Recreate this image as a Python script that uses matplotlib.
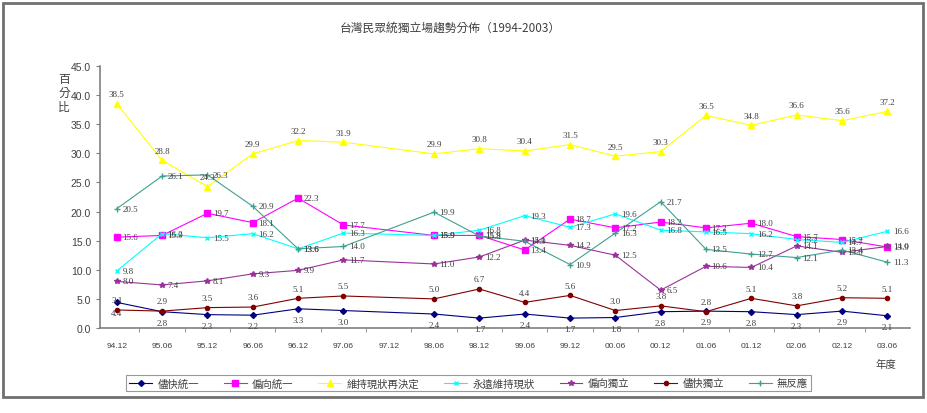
import numpy as np
import matplotlib
matplotlib.use("Agg")
import matplotlib.pyplot as plt
from matplotlib.patches import Rectangle

plt.rcParams['font.family'] = ['Noto Sans CJK TC', 'DejaVu Sans']

# category axis (97.12 has no survey)
categories = ['94.12', '95.06', '95.12', '96.06', '96.12', '97.06', '97.12', '98.06', '98.12',
              '99.06', '99.12', '00.06', '00.12', '01.06', '01.12', '02.06', '02.12', '03.06']
surveyed = ['94.12', '95.06', '95.12', '96.06', '96.12', '97.06', '98.06', '98.12',
            '99.06', '99.12', '00.06', '00.12', '01.06', '01.12', '02.06', '02.12', '03.06']

unify_asap = [4.4, 2.8, 2.3, 2.2, 3.3, 3.0, 2.4, 1.7, 2.4, 1.7, 1.8, 2.8, 2.9, 2.8, 2.3, 2.9, 2.1]
lean_unify = [15.6, 15.9, 19.7, 18.1, 22.3, 17.7, 15.9, 15.9, 13.4, 18.7, 17.2, 18.2, 17.2, 18.0, 15.7, 15.2, 13.9]
status_quo_decide = [38.5, 28.8, 24.3, 29.9, 32.2, 31.9, 29.9, 30.8, 30.4, 31.5, 29.5, 30.3, 36.5, 34.8, 36.6, 35.6, 37.2]
status_quo_forever = [9.8, 16.2, 15.5, 16.2, 13.6, 16.3, 15.9, 16.8, 19.3, 17.3, 19.6, 16.8, 16.5, 16.2, 15.2, 14.7, 16.6]
lean_indep = [8.0, 7.4, 8.1, 9.3, 9.9, 11.7, 11.0, 12.2, 15.1, 14.2, 12.5, 6.5, 10.6, 10.4, 14.1, 13.0, 14.0]
indep_asap = [3.1, 2.9, 3.5, 3.6, 5.1, 5.5, 5.0, 6.7, 4.4, 5.6, 3.0, 3.8, 2.8, 5.1, 3.8, 5.2, 5.1]
no_response = [20.5, 26.1, 26.3, 20.9, 13.6, 14.0, 19.9, 15.8, 14.9, 10.9, 16.3, 21.7, 13.5, 12.7, 12.1, 13.4, 11.3]

series = [
    ('儘快統一', unify_asap, '#000080', 'D', 3, (0, -8)),
    ('偏向統一', lean_unify, '#FF00FF', 's', 4, (4, 0)),
    ('維持現狀再決定', status_quo_decide, '#FFFF00', '^', 4, (0, 7)),
    ('永遠維持現狀', status_quo_forever, '#00FFFF', 'x', 3, (4, 0)),
    ('偏向獨立', lean_indep, '#993399', '*', 4, (4, 0)),
    ('儘快獨立', indep_asap, '#800000', 'o', 3, (0, 7)),
    ('無反應', no_response, '#40A090', '+', 4, (4, 0)),
]

fig = plt.figure(figsize=(9.28, 4.14), dpi=100)
ax = fig.add_axes([0.1078, 0.2053, 0.8728, 0.6329])

xpos = [categories.index(c) for c in surveyed]
label_font = dict(family='Liberation Serif', fontsize=6.5, color='#404040')

for name, vals, col, mk, ms, (dx, dy) in series:
    ax.plot(xpos, vals, color=col, lw=0.8, marker=mk, ms=ms, mew=1, label=name)
    for x, v in zip(xpos, vals):
        ha = 'left' if dx > 0 else 'center'
        ax.annotate(f'{v:.1f}', (x, v), xytext=(dx, dy), textcoords='offset points',
                    ha=ha, va='center', **label_font)

ax.set_xlim(-0.37, 17.5)
ax.set_ylim(0, 45)
ax.set_yticks(np.arange(0, 45.1, 5))
ax.set_yticklabels([f'{t:.1f}' for t in np.arange(0, 45.1, 5)], family='Liberation Sans',
                   fontsize=7.5, color='#404040')
ax.set_xticks(range(len(categories)))
ax.set_xticklabels(categories, family='Liberation Sans', fontsize=6, color='#404040')
ax.set_xticks(np.arange(0.5, len(categories) - 0.5, 1), minor=True)
ax.tick_params(axis='x', which='major', length=0, pad=10)
ax.tick_params(axis='x', which='minor', length=3, color='#808080', direction='out')
ax.tick_params(axis='y', length=3, color='#808080', direction='out')
for s in ['top', 'right']:
    ax.spines[s].set_visible(False)
for s in ['left', 'bottom']:
    ax.spines[s].set_color('#808080')
    ax.spines[s].set_linewidth(1.2)

fig.text(0.485, 0.932, '台灣民眾統獨立場趨勢分佈（1994-2003）', ha='center', va='center',
         fontsize=8.5, color='#404040')
fig.text(0.069, 0.775, '百\n分\n比', ha='center', va='center', fontsize=8.5,
         color='#404040', linespacing=1.1)
fig.text(0.955, 0.118, '年度', ha='center', va='center', fontsize=7.5, color='#404040')

leg = fig.legend(loc='center', bbox_to_anchor=(0.505, 0.072), ncol=7, fontsize=7.5,
                 frameon=True, fancybox=False, edgecolor='#808080', handlelength=2.2,
                 columnspacing=2.4, handletextpad=0.5, borderpad=0.3)
leg.get_frame().set_linewidth(0.8)
for t in leg.get_texts():
    t.set_color('#404040')

fig.patches.append(Rectangle((3 / 928, 1 - 398 / 414), 920 / 928, 394 / 414,
                             transform=fig.transFigure, fill=False,
                             edgecolor='#707070', lw=2))

fig.savefig('out.png', dpi=100)
